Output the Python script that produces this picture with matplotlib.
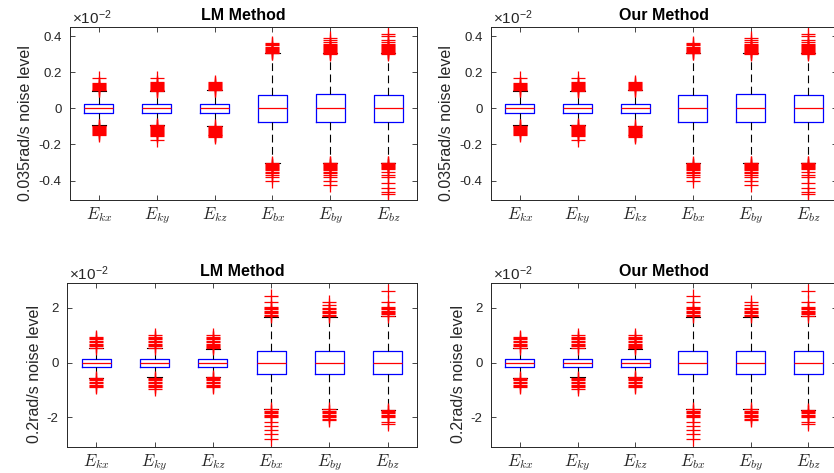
import matplotlib
matplotlib.use("Agg")
import matplotlib.pyplot as plt
from matplotlib.ticker import FuncFormatter

plt.rcParams["font.family"] = "Liberation Sans"
plt.rcParams["mathtext.fontset"] = "cm"
plt.rcParams["axes.unicode_minus"] = False

LABELS = [r"$E_{kx}$", r"$E_{ky}$", r"$E_{kz}$", r"$E_{bx}$", r"$E_{by}$", r"$E_{bz}$"]

# 0.035 rad/s noise level (values in units of 1e-2)
MED_035 = [0, 0, 0, 0, 0, 0]
Q1_035 = [-0.025, -0.025, -0.025, -0.076, -0.073, -0.075]
Q3_035 = [0.025, 0.025, 0.025, 0.075, 0.078, 0.076]
WLO_035 = [-0.093, -0.092, -0.098, -0.305, -0.300, -0.300]
WHI_035 = [0.096, 0.096, 0.100, 0.305, 0.305, 0.305]
FLIERS_035 = [
    [0.10, 0.105, 0.11, 0.115, 0.12, 0.125, 0.13, 0.135, 0.14, 0.17,
     -0.095, -0.10, -0.105, -0.11, -0.115, -0.12, -0.125, -0.13, -0.135, -0.14, -0.145],
    [0.095, 0.10, 0.105, 0.11, 0.115, 0.12, 0.125, 0.13, 0.135, 0.14, 0.145, 0.17,
     -0.09, -0.095, -0.10, -0.105, -0.11, -0.115, -0.12, -0.125, -0.13, -0.135, -0.14,
     -0.145, -0.155, -0.175],
    [0.10, 0.105, 0.11, 0.115, 0.12, 0.125, 0.13, 0.135, 0.14, 0.145,
     -0.10, -0.105, -0.11, -0.115, -0.12, -0.125, -0.13, -0.135, -0.14, -0.145, -0.15,
     -0.155, -0.16],
    [0.305, 0.31, 0.315, 0.32, 0.325, 0.33, 0.335, 0.34, 0.35, 0.36, 0.365,
     -0.305, -0.31, -0.315, -0.32, -0.325, -0.33, -0.335, -0.34, -0.35, -0.36, -0.37,
     -0.38, -0.40],
    [0.30, 0.305, 0.31, 0.315, 0.32, 0.325, 0.33, 0.335, 0.34, 0.345, 0.35, 0.36, 0.37,
     0.38, 0.39,
     -0.30, -0.305, -0.31, -0.315, -0.32, -0.325, -0.33, -0.335, -0.34, -0.35, -0.36,
     -0.37, -0.38, -0.40, -0.425],
    [0.30, 0.305, 0.31, 0.315, 0.32, 0.325, 0.33, 0.335, 0.34, 0.345, 0.35, 0.36, 0.37,
     0.38, 0.40, 0.415,
     -0.30, -0.305, -0.31, -0.315, -0.32, -0.325, -0.33, -0.335, -0.355, -0.37, -0.38,
     -0.415, -0.44, -0.465, -0.475],
]

# 0.2 rad/s noise level (values in units of 1e-2)
MED_02 = [0, 0, 0, 0, 0, 0]
Q1_02 = [-0.15, -0.15, -0.15, -0.43, -0.43, -0.43]
Q3_02 = [0.15, 0.15, 0.15, 0.43, 0.43, 0.43]
WLO_02 = [-0.56, -0.54, -0.52, -1.70, -1.70, -1.73]
WHI_02 = [0.54, 0.54, 0.51, 1.67, 1.67, 1.72]
FLIERS_02 = [
    [0.55, 0.6, 0.65, 0.7, 0.75, 0.8, 0.85, 0.9, 0.95,
     -0.56, -0.6, -0.65, -0.7, -0.75, -0.8, -0.85, -0.9],
    [0.55, 0.6, 0.65, 0.7, 0.75, 0.8, 0.85, 0.9, 0.95, 1.0,
     -0.55, -0.6, -0.65, -0.7, -0.75, -0.8, -0.85, -0.9, -0.95],
    [0.52, 0.56, 0.6, 0.65, 0.7, 0.75, 0.8, 0.85, 0.9, 0.95, 1.0,
     -0.52, -0.56, -0.6, -0.65, -0.7, -0.75, -0.8, -0.85, -0.9],
    [1.7, 1.75, 1.8, 1.85, 1.9, 1.95, 2.0, 2.05, 2.2, 2.45,
     -1.7, -1.75, -1.8, -1.85, -1.9, -1.95, -2.0, -2.15, -2.3, -2.45, -2.6, -2.8],
    [1.7, 1.75, 1.8, 1.85, 1.9, 1.95, 2.0, 2.1, 2.2,
     -1.7, -1.75, -1.8, -1.85, -1.9, -1.95, -2.0, -2.05, -2.1],
    [1.72, 1.76, 1.8, 1.85, 1.9, 1.95, 2.0, 2.05, 2.2, 2.6,
     -1.73, -1.77, -1.8, -1.85, -1.9, -1.95, -2.0, -2.15, -2.25],
]

EDGE = "#262626"


def make_stats(med, q1, q3, wlo, whi, fliers):
    return [dict(med=m, q1=a, q3=b, whislo=lo, whishi=hi, fliers=f)
            for m, a, b, lo, hi, f in zip(med, q1, q3, wlo, whi, fliers)]


def tick_fmt(v, _):
    v = round(v, 6)
    if v == 0:
        return "0"
    return f"{v:g}"


stats_035 = make_stats(MED_035, Q1_035, Q3_035, WLO_035, WHI_035, FLIERS_035)
stats_02 = make_stats(MED_02, Q1_02, Q3_02, WLO_02, WHI_02, FLIERS_02)

W, H = 834, 473
fig = plt.figure(figsize=(W / 100, H / 100), dpi=100)

# (left, right, top, bottom) in pixels, title, stats, ylabel, ylim, ticks, label x
panels = [
    ((70, 417, 27, 200), "LM Method", stats_035, "0.035rad/s noise level",
     (-0.508, 0.452), [-0.4, -0.2, 0, 0.2, 0.4], -0.107),
    ((491, 837, 27, 200), "Our Method", stats_035, "0.035rad/s noise level",
     (-0.508, 0.452), [-0.4, -0.2, 0, 0.2, 0.4], -0.107),
    ((67, 417, 283, 447), "LM Method", stats_02, "0.2rad/s noise level",
     (-3.08, 2.91), [-2, 0, 2], -0.072),
    ((491, 837, 283, 447), "Our Method", stats_02, "0.2rad/s noise level",
     (-3.08, 2.91), [-2, 0, 2], -0.072),
]

for (l, r, t, b), title, stats, ylabel, ylim, yticks, lx in panels:
    ax = fig.add_axes([l / W, (H - b) / H, (r - l) / W, (b - t) / H])
    ax.bxp(stats, positions=range(1, 7), widths=0.5,
           boxprops=dict(color="blue", linewidth=0.9),
           medianprops=dict(color="red", linewidth=0.9),
           whiskerprops=dict(color="black", linewidth=0.8, linestyle=(0, (7, 4))),
           capprops=dict(color="black", linewidth=0.8),
           flierprops=dict(marker="+", markeredgecolor="red", markersize=10,
                           markeredgewidth=0.9, linestyle="none"))
    ax.set_xlim(0.5, 6.5)
    ax.set_ylim(*ylim)
    ax.set_yticks(yticks)
    ax.yaxis.set_major_formatter(FuncFormatter(tick_fmt))
    ax.set_xticks(range(1, 7))
    ax.set_xticklabels(LABELS, fontsize=12)
    ax.tick_params(axis="both", direction="in", length=3.5, width=0.6,
                   colors=EDGE, top=True, right=True)
    ax.tick_params(axis="y", labelsize=9.5, pad=6)
    ax.tick_params(axis="x", pad=4)
    for s in ax.spines.values():
        s.set_color(EDGE)
        s.set_linewidth(0.7)
    ax.set_title(title, fontsize=11.5, fontweight="bold", pad=5)
    ax.set_ylabel(ylabel, fontsize=11.5, color=EDGE)
    ax.yaxis.set_label_coords(lx, 0.445)
    ax.text(0.005, 1.0, r"$\mathregular{\times 10^{-2}}$", transform=ax.transAxes,
            ha="left", va="bottom", fontsize=11, color=EDGE)

fig.savefig("out.png", dpi=100)
